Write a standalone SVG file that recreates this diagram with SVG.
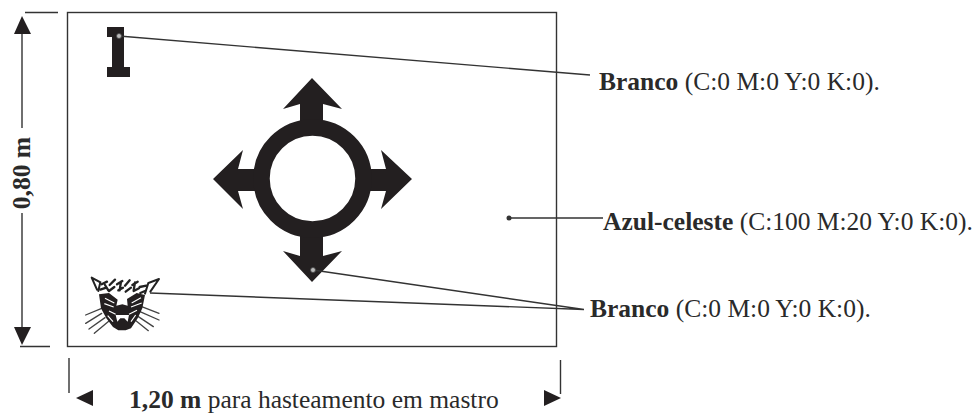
<svg xmlns="http://www.w3.org/2000/svg" width="976" height="414" viewBox="0 0 976 414">
<style>
text{font-family:"Liberation Serif","Times New Roman",serif;font-size:25.500px;fill:#2a2a2a}
.b{font-weight:bold}
.l{stroke:#333;stroke-width:1.4;fill:none}
.k{fill:#231f20}
.d{fill:#bbb;stroke:#444;stroke-width:.8}
</style>
<rect width="976" height="414" fill="#fff"/>
<g id="flag"><rect x="67.500" y="12.500" width="489" height="334" fill="#fff" stroke="#333" stroke-width="1.4"/></g>
<g id="star">
<path class="k" d="M312 78L342 109L323 104V122H300V104L283 109ZM312 282L342 251L323 256V236H300V256L283 251ZM213 179L243 150L238 169H256V191H238L243 209ZM412 179L381 150L386 169H368V191H386L381 209Z"/>
<circle cx="312.500" cy="178.500" r="51" fill="none" stroke="#231f20" stroke-width="16.500"/>
</g>
<g id="letter"><path class="k" d="M107 27H124V67H130V77H107V67H112V37H107Z"/></g>
<g id="jaguar" transform="translate(85 265) scale(.3333)">
<g fill="none" stroke="#222" stroke-linecap="round">
<path stroke-width="6" d="M20 38L46 52L40 78M20 38L36 74M222 42L190 54L180 86M222 42L196 80"/>
<path stroke-width="7" d="M50 58L66 50M74 60L90 44M96 58L112 48M120 62L134 46M142 60L158 50M164 66L184 62M46 74L64 68M72 78L88 66M100 76L114 68M122 80L138 68M146 78L162 70M166 84L180 78M60 60L70 76M108 50L104 76M150 52L146 76"/>
<path stroke-width="4" opacity=".85" d="M50 130L2 150M50 145L2 175M60 158L12 192M72 168L28 205M170 125L222 145M165 140L222 165M160 155L205 185M150 165L190 197"/>
</g>
<path class="k" d="M42 88L72 84L98 104L94 122L112 118L128 122L126 102L155 84L180 90L172 130L158 160L138 190L122 196H100L84 186L64 160L48 130Z"/>
<path d="M60 100L88 114M168 98L140 114M58 116L86 126M170 114L138 126M72 138L92 148M156 136L132 148M110 92V116M68 152L84 170M152 150L138 170" stroke="#fff" stroke-width="3.500" fill="none"/>
<path fill="#fff" d="M92 150H132L128 170L118 160H106L97 170Z"/>
</g>
<g id="connectors">
<path class="l" d="M119 36L590 75M509 218H603M150 293L584 309.500M313 270L584 309.500"/>
<path class="l" d="M25 12.500H58M22 30V128M22 213V330M20 346.500H50M69 358V393M560.500 360V394"/>
<path class="k" d="M22 16L31 34H14ZM22 345L31 327H14ZM76 398L93 390V406ZM561 398L544 390V406Z"/>
<circle class="d" cx="119" cy="36" r="2.500"/>
<circle cx="509" cy="218" r="2.500" fill="#333"/>
<circle class="d" cx="313" cy="270" r="2.500"/>
</g>
<g id="labels">
<text x="599" y="90"><tspan class="b">Branco</tspan> (C:0 M:0 Y:0 K:0).</text>
<text x="603" y="230"><tspan class="b">Azul-celeste</tspan> (C:100 M:20 Y:0 K:0).</text>
<text x="590" y="317"><tspan class="b">Branco</tspan> (C:0 M:0 Y:0 K:0).</text>
<text x="129" y="408"><tspan class="b">1,20 m</tspan> para hasteamento em mastro</text>
<text class="b" transform="translate(30 173) rotate(-90)" text-anchor="middle">0,80 m</text>
</g>
</svg>
